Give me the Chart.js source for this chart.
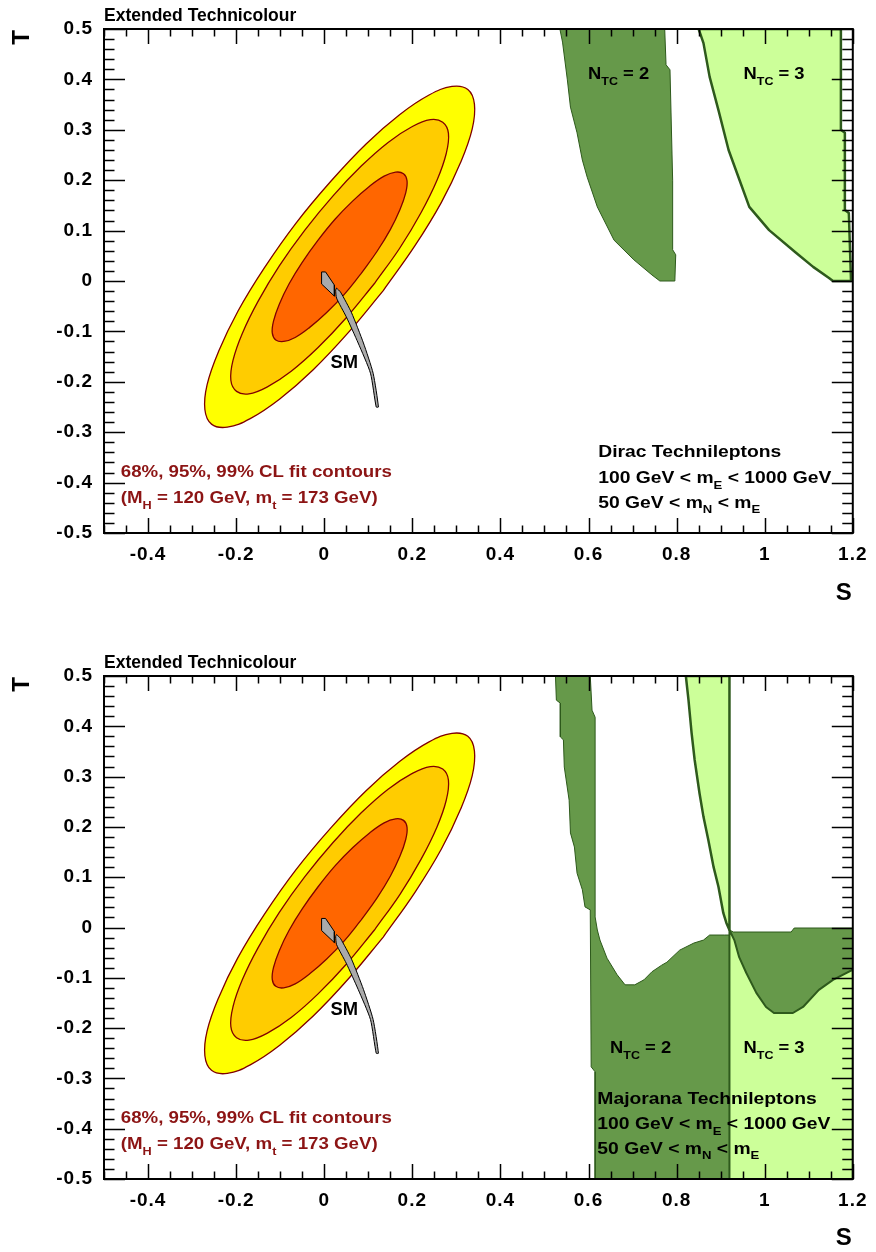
<!DOCTYPE html>
<html>
<head>
<meta charset="utf-8">
<script src="https://cdn.jsdelivr.net/npm/chart.js@4.4.1/dist/chart.umd.min.js"></script>
<style>
  html, body { margin: 0; padding: 0; background: #fff; overflow: hidden; }
  #wrap { position: relative; width: 876px; height: 1252px; }
  #c1 { position: absolute; left: 0; top: 0; }
  #c2 { position: absolute; left: 0; top: 647px; }
</style>
</head>
<body>
<div id="wrap">
  <canvas id="c1" width="876" height="626"></canvas>
  <canvas id="c2" width="876" height="605"></canvas>
</div>
<script>
// axis ticks
const xTickValues = [-0.4, -0.2, 0, 0.2, 0.4, 0.6, 0.8, 1, 1.2];
const xTickLabels = ['-0.4', '-0.2', '0', '0.2', '0.4', '0.6', '0.8', '1', '1.2'];
const yTickValues = [-0.5, -0.4, -0.3, -0.2, -0.1, 0, 0.1, 0.2, 0.3, 0.4, 0.5];
const yTickLabels = ['-0.5', '-0.4', '-0.3', '-0.2', '-0.1', '0', '0.1', '0.2', '0.3', '0.4', '0.5'];

// fit contours (S, T)
const cl99S = [0.134, 0.055, -0.025, -0.101, -0.168, -0.220, -0.256, -0.271, -0.266, -0.240, -0.196, -0.136, -0.064, 0.015, 0.095, 0.171, 0.238, 0.290, 0.326, 0.341, 0.336, 0.310, 0.266, 0.206];
const cl99T = [-0.019, -0.102, -0.176, -0.234, -0.273, -0.290, -0.284, -0.255, -0.206, -0.140, -0.060, 0.026, 0.115, 0.198, 0.272, 0.330, 0.369, 0.386, 0.380, 0.351, 0.302, 0.236, 0.156, 0.070];
const cl95S = [0.114, 0.050, -0.014, -0.075, -0.129, -0.171, -0.199, -0.212, -0.207, -0.186, -0.150, -0.102, -0.044, 0.020, 0.084, 0.145, 0.199, 0.241, 0.269, 0.282, 0.277, 0.256, 0.220, 0.172];
const cl95T = [-0.005, -0.073, -0.132, -0.179, -0.210, -0.224, -0.219, -0.197, -0.157, -0.104, -0.040, 0.030, 0.101, 0.169, 0.228, 0.275, 0.306, 0.320, 0.315, 0.293, 0.253, 0.200, 0.136, 0.066];
const cl68S = [0.084, 0.045, 0.005, -0.033, -0.066, -0.092, -0.110, -0.118, -0.115, -0.102, -0.080, -0.050, -0.014, 0.025, 0.065, 0.103, 0.136, 0.162, 0.180, 0.188, 0.185, 0.172, 0.150, 0.120];
const cl68T = [0.015, -0.027, -0.063, -0.092, -0.112, -0.120, -0.117, -0.103, -0.079, -0.046, -0.006, 0.037, 0.081, 0.123, 0.159, 0.188, 0.208, 0.216, 0.213, 0.199, 0.175, 0.142, 0.102, 0.059];

// SM prediction
const smBoxS = [-0.006, 0.003, 0.023, 0.023, -0.006];
const smBoxT = [0.018, 0.018, -0.008, -0.030, -0.006];
const smBandS = [0.028, 0.037, 0.062, 0.089, 0.111, 0.123, 0.118, 0.105, 0.077, 0.050, 0.028, 0.026];
const smBandT = [-0.014, -0.022, -0.063, -0.123, -0.183, -0.250, -0.250, -0.183, -0.123, -0.071, -0.034, -0.018];

// Dirac technileptons
const diracN2S = [0.535, 0.541, 0.552, 0.559, 0.574, 0.586, 0.597, 0.620, 0.658, 0.703, 0.744, 0.762, 0.796, 0.798, 0.791, 0.791, 0.785, 0.776, 0.773];
const diracN2T = [0.5, 0.474, 0.399, 0.345, 0.294, 0.240, 0.206, 0.147, 0.081, 0.042, 0.012, 0.0, 0.0, 0.052, 0.062, 0.200, 0.419, 0.429, 0.5];
const diracN3S = [0.850, 0.861, 0.875, 0.895, 0.918, 0.943, 0.965, 1.010, 1.071, 1.110, 1.146, 1.155, 1.196, 1.191, 1.182, 1.182, 1.173, 1.173];
const diracN3T = [0.5, 0.472, 0.405, 0.339, 0.260, 0.200, 0.147, 0.101, 0.056, 0.028, 0.006, 0.0, 0.0, 0.135, 0.141, 0.294, 0.300, 0.5];

// Majorana technileptons
const majN2aS = [0.525, 0.527, 0.536, 0.536, 0.543, 0.545, 0.556, 0.559, 0.568, 0.574, 0.586, 0.592, 0.604, 0.606, 0.615, 0.615, 0.920, 0.920, 0.909, 0.875, 0.861, 0.839, 0.807, 0.778, 0.766, 0.744, 0.726, 0.705, 0.683, 0.665, 0.642, 0.626, 0.620, 0.615, 0.615, 0.608, 0.604];
const majN2aT = [0.5, 0.452, 0.446, 0.379, 0.373, 0.319, 0.253, 0.188, 0.160, 0.108, 0.075, 0.041, 0.035, -0.277, -0.287, -0.5, -0.5, -0.015, -0.015, -0.015, -0.025, -0.031, -0.045, -0.069, -0.075, -0.088, -0.104, -0.114, -0.114, -0.094, -0.061, -0.025, -0.005, 0.021, 0.418, 0.432, 0.5];
const majN2bS = [0.920, 0.929, 1.060, 1.067, 1.2, 1.2, 1.155, 1.123, 1.087, 1.064, 1.021, 1.003, 0.981, 0.958, 0.942, 0.931];
const majN2bT = [-0.005, -0.009, -0.009, -0.001, -0.001, -0.084, -0.104, -0.124, -0.158, -0.170, -0.170, -0.158, -0.130, -0.090, -0.059, -0.025];
const majN3aS = [0.821, 0.827, 0.834, 0.841, 0.852, 0.861, 0.872, 0.884, 0.895, 0.906, 0.913, 0.920, 0.920];
const majN3aT = [0.5, 0.452, 0.387, 0.333, 0.267, 0.220, 0.174, 0.120, 0.081, 0.029, 0.009, -0.005, 0.5];
const majN3bS = [0.920, 0.931, 0.942, 0.958, 0.981, 1.003, 1.021, 1.064, 1.087, 1.123, 1.155, 1.2, 1.2, 0.920];
const majN3bT = [-0.005, -0.025, -0.059, -0.090, -0.130, -0.158, -0.170, -0.170, -0.158, -0.124, -0.104, -0.084, -0.5, -0.5];

const FONT = '"Liberation Sans", Arial, Helvetica, sans-serif';
const DARK_RED = '#800000';
const TEXT_RED = '#8c1414';
const GREEN = '#66994a';
const GREEN_LINE = '#2e5a1c';
const LIGHT = '#ccff99';

function closedPath(s, t) {
  const pts = s.map((v, i) => ({ x: v, y: t[i] }));
  pts.push({ x: s[0], y: t[0] });
  return pts;
}

function area(s, t, fill, line, width, tension) {
  return {
    data: closedPath(s, t),
    backgroundColor: fill,
    borderColor: line,
    borderWidth: width,
    fill: 'shape',
    tension: tension || 0,
    pointRadius: 0,
    borderJoinStyle: 'round'
  };
}

function contours() {
  return [
    area(cl99S, cl99T, '#ffff00', DARK_RED, 1.3, 0.4),
    area(cl95S, cl95T, '#ffcc00', DARK_RED, 1.3, 0.4),
    area(cl68S, cl68T, '#ff6600', DARK_RED, 1.3, 0.4),
    area(smBandS, smBandT, '#aaaaaa', '#000', 1, 0.2),
    area(smBoxS, smBoxT, '#aaaaaa', '#000', 1, 0)
  ];
}

// subscripts written as _{..}
function drawRich(ctx, str, x, y, size, color, stretch) {
  const parts = str.split(/_\{([^}]*)\}/);
  ctx.save();
  ctx.translate(x, y);
  ctx.scale(stretch, 1);
  ctx.fillStyle = color;
  ctx.textAlign = 'left';
  ctx.textBaseline = 'alphabetic';
  let cx = 0;
  parts.forEach((p, i) => {
    if (!p) return;
    const sub = i % 2 === 1;
    ctx.font = `bold ${sub ? size * 0.68 : size}px ${FONT}`;
    ctx.fillText(p, cx, sub ? size * 0.34 : 0);
    cx += ctx.measureText(p).width;
  });
  ctx.restore();
}

function overlay(notes) {
  return {
    id: 'overlay',
    beforeDraw(chart) { chart.ctx.letterSpacing = '1px'; },
    beforeDatasetsDraw(chart) { chart.ctx.letterSpacing = '0px'; },
    afterDatasetsDraw(chart) {
      const { ctx, chartArea: a, scales: { x, y } } = chart;
      ctx.save();
      ctx.strokeStyle = '#000';
      ctx.lineWidth = 1.5;
      ctx.beginPath();
      for (let i = 0; i <= 34; i++) {
        const v = -0.5 + i * 0.05;
        const major = Math.abs(v / 0.2 - Math.round(v / 0.2)) < 1e-6;
        const len = major ? 15 : 7.5;
        const px = Math.round(x.getPixelForValue(v)) + 0.5;
        ctx.moveTo(px, a.bottom); ctx.lineTo(px, a.bottom - len);
        ctx.moveTo(px, a.top); ctx.lineTo(px, a.top + len);
      }
      for (let i = 0; i <= 50; i++) {
        const v = -0.5 + i * 0.02;
        const major = Math.abs(v / 0.1 - Math.round(v / 0.1)) < 1e-6;
        const len = major ? 21 : 10.5;
        const py = Math.round(y.getPixelForValue(v)) + 0.5;
        ctx.moveTo(a.left, py); ctx.lineTo(a.left + len, py);
        ctx.moveTo(a.right, py); ctx.lineTo(a.right - len, py);
      }
      ctx.stroke();
      ctx.lineWidth = 2;
      ctx.strokeRect(a.left, a.top, a.right - a.left, a.bottom - a.top);
      ctx.restore();

      notes.forEach(n => {
        drawRich(ctx, n.text, x.getPixelForValue(n.s), y.getPixelForValue(n.t), n.size, n.color, n.stretch);
      });
    }
  };
}

function makeChart(id, datasets, notes, xAxisHeight, sTitlePad) {
  const n = datasets.length;
  datasets.forEach((d, i) => { d.order = n - i; });
  return new Chart(document.getElementById(id), {
    type: 'line',
    data: { datasets },
    options: {
      responsive: false,
      animation: false,
      devicePixelRatio: 1,
      events: [],
      layout: { padding: { left: 0, right: 19, top: 29, bottom: 0 } },
      plugins: { legend: { display: false }, tooltip: { enabled: false } },
      scales: {
        x: {
          type: 'linear', min: -0.5, max: 1.2, position: 'bottom',
          grid: { display: false, drawTicks: false },
          border: { display: false },
          afterBuildTicks: sc => { sc.ticks = xTickValues.map(v => ({ value: v })); },
          afterFit: sc => { sc.height = xAxisHeight; },
          ticks: {
            padding: 10, color: '#000', autoSkip: false, maxRotation: 0,
            font: { family: FONT, size: 19, weight: 'bold' },
            callback: (v, i) => xTickLabels[i]
          },
          title: {
            display: true, text: 'S', align: 'end', color: '#000',
            font: { family: FONT, size: 24, weight: 'bold', lineHeight: 1 },
            padding: { top: 0, bottom: sTitlePad }
          }
        },
        y: {
          type: 'linear', min: -0.5, max: 0.5, position: 'left',
          grid: { display: false, drawTicks: false },
          border: { display: false },
          afterBuildTicks: sc => { sc.ticks = yTickValues.map(v => ({ value: v })); },
          afterFit: sc => { sc.width = 104; },
          ticks: {
            padding: 11, color: '#000', autoSkip: false,
            font: { family: FONT, size: 19, weight: 'bold' },
            callback: (v, i) => yTickLabels[i]
          },
          title: {
            display: true, text: 'T', align: 'end', color: '#000',
            font: { family: FONT, size: 24, weight: 'bold', lineHeight: 1 },
            padding: { top: 10, bottom: 0 }
          }
        }
      }
    },
    plugins: [overlay(notes)]
  });
}

const commonNotes = [
  { text: 'Extended Technicolour', s: -0.5, t: 0.516, size: 17.5, color: '#000', stretch: 1.0 },
  { text: 'SM', s: 0.014, t: -0.173, size: 17.5, color: '#000', stretch: 1.05 },
  { text: '68%, 95%, 99% CL fit contours', s: -0.462, t: -0.389, size: 17, color: TEXT_RED, stretch: 1.1 },
  { text: '(M_{H} = 120 GeV, m_{t} = 173 GeV)', s: -0.462, t: -0.440, size: 17, color: TEXT_RED, stretch: 1.1 }
];

makeChart('c1', [
  area(diracN2S, diracN2T, GREEN, GREEN_LINE, 1, 0),
  area(diracN3S, diracN3T, LIGHT, GREEN_LINE, 2.5, 0),
  ...contours()
], commonNotes.concat([
  { text: 'N_{TC} = 2', s: 0.599, t: 0.401, size: 17, color: '#000', stretch: 1.08 },
  { text: 'N_{TC} = 3', s: 0.952, t: 0.401, size: 17, color: '#000', stretch: 1.08 },
  { text: 'Dirac Technileptons', s: 0.622, t: -0.349, size: 16.5, color: '#000', stretch: 1.17 },
  { text: '100 GeV < m_{E} < 1000 GeV', s: 0.622, t: -0.401, size: 16.5, color: '#000', stretch: 1.17 },
  { text: '50 GeV < m_{N} < m_{E}', s: 0.622, t: -0.450, size: 16.5, color: '#000', stretch: 1.17 }
]), 93, 21);

makeChart('c2', [
  area(majN2aS, majN2aT, GREEN, GREEN_LINE, 1, 0),
  area(majN2bS, majN2bT, GREEN, GREEN_LINE, 1, 0),
  area(majN3aS, majN3aT, LIGHT, GREEN_LINE, 2.5, 0),
  area(majN3bS, majN3bT, LIGHT, GREEN_LINE, 2, 0),
  ...contours()
], commonNotes.concat([
  { text: 'N_{TC} = 2', s: 0.649, t: -0.2495, size: 17, color: '#000', stretch: 1.08 },
  { text: 'N_{TC} = 3', s: 0.952, t: -0.2495, size: 17, color: '#000', stretch: 1.08 },
  { text: 'Majorana Technileptons', s: 0.620, t: -0.351, size: 16.5, color: '#000', stretch: 1.17 },
  { text: '100 GeV < m_{E} < 1000 GeV', s: 0.620, t: -0.401, size: 16.5, color: '#000', stretch: 1.17 },
  { text: '50 GeV < m_{N} < m_{E}', s: 0.620, t: -0.450, size: 16.5, color: '#000', stretch: 1.17 }
]), 73, 2);
</script>
</body>
</html>
